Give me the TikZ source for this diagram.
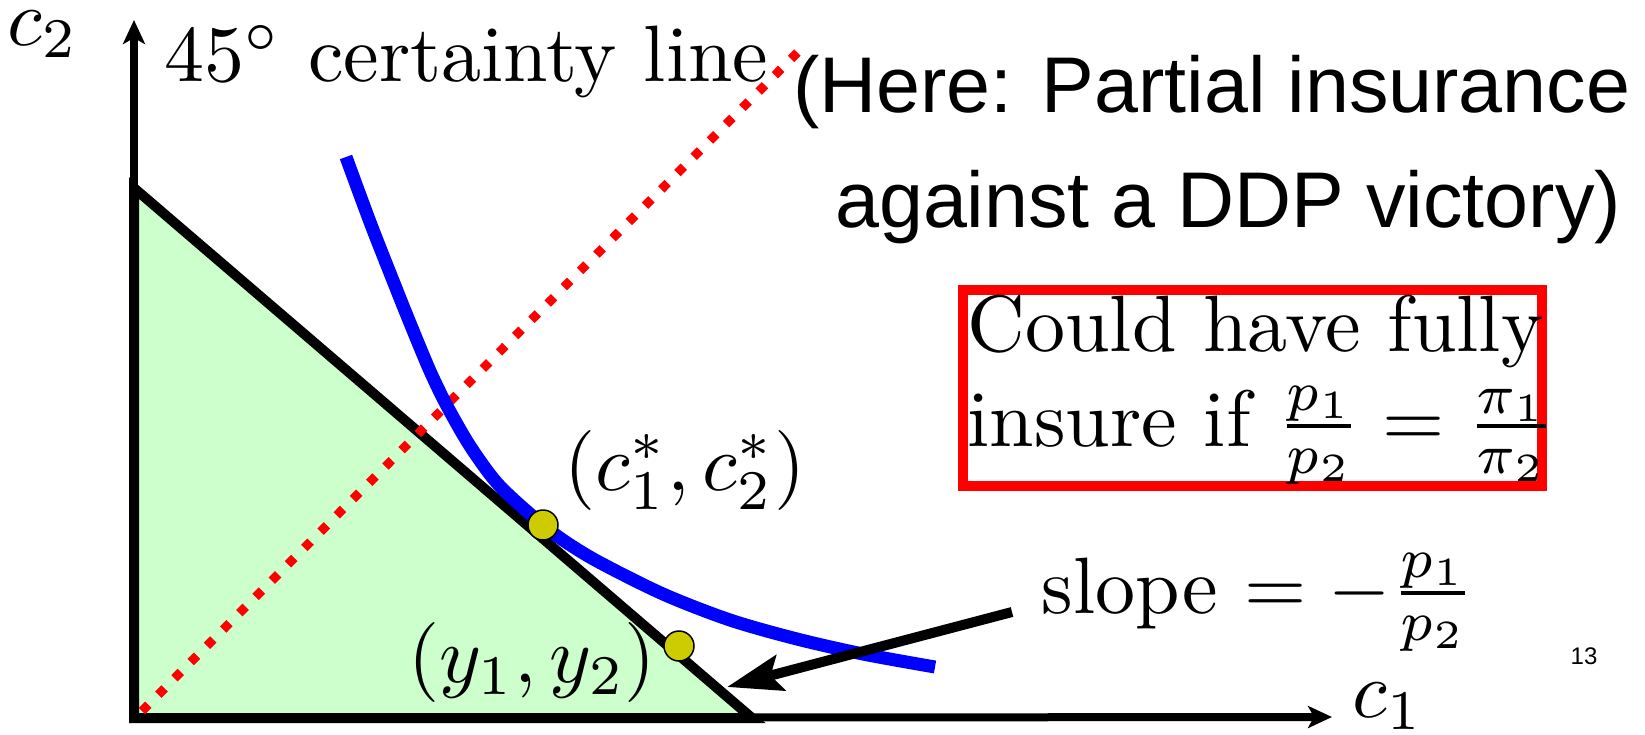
\RequirePackage{fix-cm}
\documentclass[tikz,border=0pt]{standalone}
\usepackage{fontspec}
\newfontfamily\arialfont{Liberation Sans}
\usetikzlibrary{arrows.meta}
\definecolor{budgetgreen}{HTML}{CCFFCC}
\definecolor{dotyellow}{HTML}{CCCC00}
\definecolor{pureblue}{HTML}{0000FF}
\definecolor{purered}{HTML}{FF0000}
\tikzset{
  bigtext/.style={font=\normalsize, scale=8, inner sep=0pt},
  sanstext/.style={font=\arialfont\fontsize{79}{95}\selectfont, inner sep=0pt},
  axisline/.style={line width=8pt, -{Stealth[length=24pt,width=22pt,inset=6pt]}},
  edgeline/.style={line width=10pt, line join=miter},
  certline/.style={purered, line width=9pt, dash pattern=on 9pt off 14pt},
  indiff/.style={pureblue, line width=13pt},
  optdot/.style={circle, fill=dotyellow, draw=black, line width=1.5pt, minimum size=30pt, inner sep=0pt},
  slopearrow/.style={line width=10pt, -{Stealth[length=55pt,width=36pt,inset=10pt]}},
}
\begin{document}
\begin{tikzpicture}[x=1pt,y=-1pt]
\useasboundingbox (0,0) rectangle (1645,734);
% key points
\coordinate (O) at (134,718);
\coordinate (T) at (134,188);
\coordinate (B) at (752,718);
\coordinate (ytip) at (134,20);
\coordinate (xtip) at (1332,717);
\coordinate (d1) at (142,711);
\coordinate (d2) at (800,50);
% budget set
\fill[budgetgreen] (T) -- (O) -- (B) -- cycle;
% axes
\draw[axisline] (O) -- (ytip);
\draw[axisline] (O) -- (xtip);
% budget triangle edges
\draw[edgeline] (T) -- (O) -- (B) -- cycle;
% certainty line
\draw[certline] (d1) -- (d2);
% indifference curve
\draw[indiff] plot[smooth, tension=0.5] coordinates {(346,157) (370,222) (390,273) (410,323) (430,371) (447,406) (470,446) (497,483) (530,514) (560,538) (597,561) (663,594) (730,620) (797,639) (863,654) (935,667)};
% points
\node[optdot] (cstar) at (543,525) {};
\node[optdot] (yend) at (679,646) {};
% labels
\node[bigtext] (c2lab) at (43,34) {$c_2$};
\node[bigtext] (c1lab) at (1388,706) {$c_1$};
\node[bigtext, anchor=base west] (cert) at (163,81) {$45^\circ$ certainty line};
\node[sanstext, anchor=base west] (here1) at (793,112) {(Here: Partial insurance};
\node[sanstext, anchor=base west] (here2) at (835,227) {against a DDP victory)};
\node[bigtext] (cstarlab) at (685,470) {$(c_1^*,c_2^*)$};
\node[bigtext] (ylab) at (532,662) {$(y_1,y_2)$};
\node[bigtext, anchor=base west] (slopelab) at (1040,613) {slope $=-\frac{p_1}{p_2}$};
\node[font=\arialfont\fontsize{24}{28}\selectfont, inner sep=0pt] (pagenum) at (1584,656) {13};
% box
\draw[purered, line width=10pt] (963,290) rectangle (1542,486);
\node[bigtext, anchor=base west] (box1) at (966,351) {Could have fully};
\node[bigtext, anchor=base west] (box2) at (966,446) {insure if $\frac{p_1}{p_2}=\frac{\pi_1}{\pi_2}$};
% slope arrow
\coordinate (atail) at (1012,612);
\coordinate (atip) at (727,687);
\draw[slopearrow] (atail) -- (atip);
\end{tikzpicture}
\end{document}
